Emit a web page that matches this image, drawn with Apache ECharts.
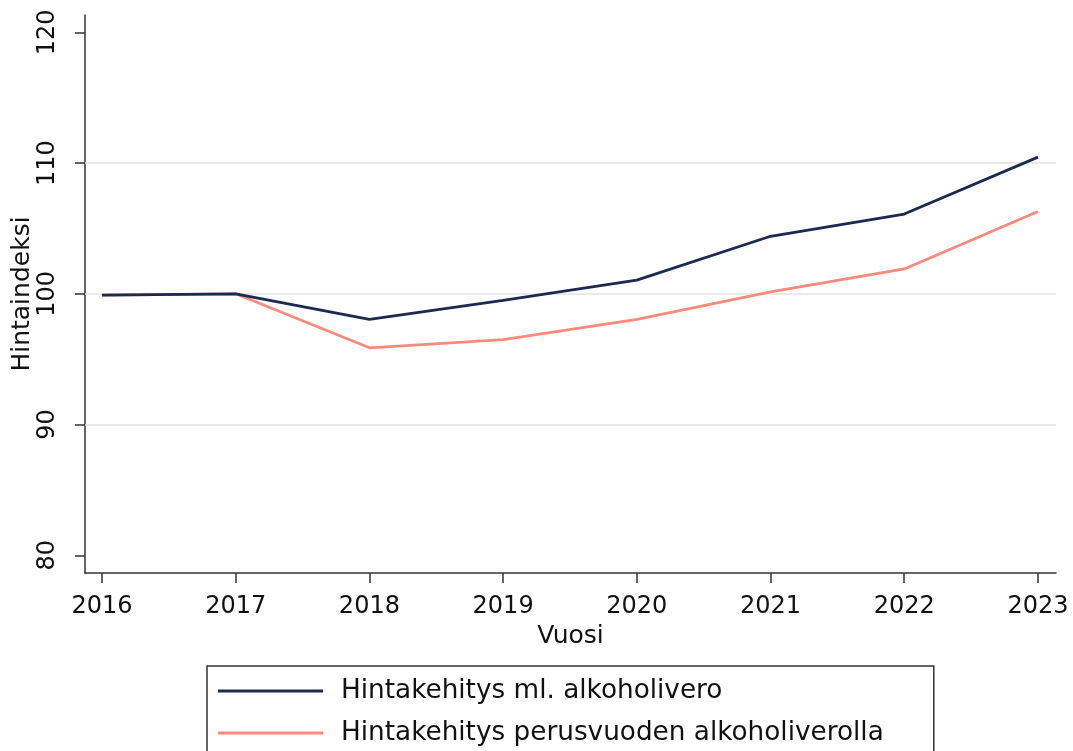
<!DOCTYPE html>
<html>
<head>
<meta charset="utf-8">
<script src="https://cdn.jsdelivr.net/npm/echarts@6/dist/echarts.min.js"></script>
<style>
  html, body { margin: 0; padding: 0; background: #fff; }
  #chart { width: 1073px; height: 751px; }
</style>
</head>
<body>
<div id="chart"></div>
<script>
// vuodet ja indeksit (2016 = 100)
var years = [2016, 2017, 2018, 2019, 2020, 2021, 2022, 2023]
var withTax = [99.9, 100.0, 98.05, 99.5, 101.05, 104.4, 106.1, 110.45]
var baseTax = [99.9, 100.0, 95.87, 96.5, 98.05, 100.15, 101.9, 106.3]
var yTicks = [80, 90, 100, 110, 120]
var gridValues = [90, 100, 110]
var seriesNames = ['Hintakehitys ml. alkoholivero', 'Hintakehitys perusvuoden alkoholiverolla']

var font = 'DejaVu Sans'
var axisColor = '#333'

function pairs (vals) {
  return years.map(function (y, i) { return [y, vals[i]] })
}

var chart = echarts.init(document.getElementById('chart'))
chart.setOption({
  animation: false,
  backgroundColor: '#fff',
  grid: { left: 85, right: 17, top: 15, bottom: 178, containLabel: false, outerBoundsMode: 'none' },
  xAxis: {
    type: 'value',
    min: 2015.873,
    max: 2023.135,
    name: 'Vuosi',
    nameLocation: 'middle',
    nameGap: 51,
    nameMoveOverlap: false,
    nameTextStyle: { fontFamily: font, fontSize: 25, color: '#111' },
    axisLine: { onZero: false, lineStyle: { color: axisColor, width: 1.5 } },
    axisTick: { customValues: years, length: 10, lineStyle: { color: axisColor, width: 1.5 } },
    axisLabel: {
      customValues: years,
      margin: 22,
      fontFamily: font,
      fontSize: 24,
      color: '#111',
      formatter: function (v) { return String(Math.round(v)) }
    },
    splitLine: { show: false }
  },
  yAxis: {
    type: 'value',
    min: 78.65,
    max: 121.32,
    name: 'Hintaindeksi',
    nameLocation: 'middle',
    nameGap: 50,
    nameMoveOverlap: false,
    nameTextStyle: { fontFamily: font, fontSize: 25, color: '#111' },
    axisLine: { show: true, onZero: false, lineStyle: { color: axisColor, width: 1.5 } },
    axisTick: { show: true, customValues: yTicks, length: 10, lineStyle: { color: axisColor, width: 1.5 } },
    axisLabel: {
      customValues: yTicks,
      rotate: 90,
      margin: 25,
      fontFamily: font,
      fontSize: 24,
      color: '#111'
    },
    splitLine: { show: false }
  },
  legend: {
    orient: 'vertical',
    left: 207,
    top: 666,
    height: 200,
    data: seriesNames,
    icon: 'rect',
    itemWidth: 105,
    itemHeight: 3,
    itemGap: 12,
    padding: [10, 50, 30, 11],
    borderColor: axisColor,
    borderWidth: 1.5,
    textStyle: { fontFamily: font, fontSize: 26.3, color: '#111', lineHeight: 30, padding: [0, 0, 0, 13] }
  },
  series: [
    {
      name: seriesNames[0],
      type: 'line',
      data: pairs(withTax),
      symbol: 'none',
      color: '#1b2a50',
      lineStyle: { width: 2.8 },
      z: 3,
      markLine: {
        silent: true,
        symbol: 'none',
        label: { show: false },
        lineStyle: { color: '#e3e3e3', width: 1.5, type: 'solid' },
        data: gridValues.map(function (v) { return { yAxis: v } }),
        z: 1
      }
    },
    {
      name: seriesNames[1],
      type: 'line',
      data: pairs(baseTax),
      symbol: 'none',
      color: '#fc8a7c',
      lineStyle: { width: 2.8 },
      z: 2
    }
  ]
})
</script>
</body>
</html>
